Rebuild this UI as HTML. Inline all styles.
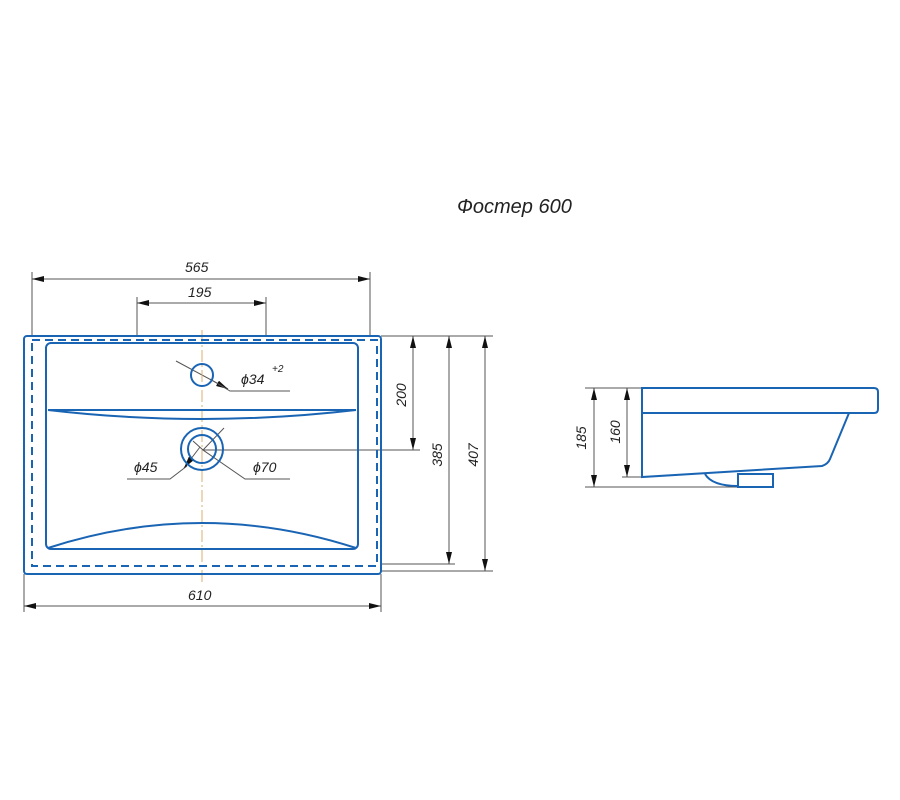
<!DOCTYPE html>
<html><head><meta charset="utf-8"><style>body{margin:0;background:#fff}svg{display:block}</style></head><body>
<svg width="900" height="800" viewBox="0 0 900 800" xmlns="http://www.w3.org/2000/svg">
<defs>
<marker id="a" markerWidth="12" markerHeight="6" refX="12" refY="3" orient="auto" markerUnits="userSpaceOnUse"><path d="M0,0 L12,3 L0,6 z" fill="#111"/></marker>
<marker id="b" markerWidth="12" markerHeight="6" refX="0" refY="3" orient="auto" markerUnits="userSpaceOnUse"><path d="M12,0 L0,3 L12,6 z" fill="#111"/></marker>
</defs>
<g font-family="Liberation Sans, sans-serif" font-style="italic" fill="#222">
<text x="457" y="213" font-size="20">Фостер 600</text>
</g>
<!-- dimension lines -->
<g stroke="#555" stroke-width="1" fill="none">
<line x1="32" y1="272" x2="32" y2="336"/><line x1="370" y1="272" x2="370" y2="336"/>
<line x1="32" y1="279" x2="370" y2="279" marker-start="url(#b)" marker-end="url(#a)"/>
<line x1="137" y1="297" x2="137" y2="336"/><line x1="266" y1="297" x2="266" y2="336"/>
<line x1="137" y1="303" x2="266" y2="303" marker-start="url(#b)" marker-end="url(#a)"/>
<line x1="381" y1="336" x2="493" y2="336"/>
<line x1="202" y1="450" x2="420" y2="450"/>
<line x1="381" y1="564" x2="455" y2="564"/>
<line x1="381" y1="571" x2="493" y2="571"/>
<line x1="413" y1="336" x2="413" y2="450" marker-start="url(#b)" marker-end="url(#a)"/>
<line x1="449" y1="336" x2="449" y2="564" marker-start="url(#b)" marker-end="url(#a)"/>
<line x1="485" y1="336" x2="485" y2="571" marker-start="url(#b)" marker-end="url(#a)"/>
<line x1="24" y1="574" x2="24" y2="612"/><line x1="381" y1="574" x2="381" y2="612"/>
<line x1="24" y1="606" x2="381" y2="606" marker-start="url(#b)" marker-end="url(#a)"/>
<!-- leaders -->
<line x1="176" y1="361" x2="228" y2="389" marker-end="url(#a)"/>
<polyline points="210,379 230,391 290,391"/>
<polyline points="127,479 170,479 187,466" /><line x1="200" y1="447" x2="184" y2="468" marker-end="url(#a)"/>
<polyline points="224,428 203,450 245,479 290,479"/><line x1="193" y1="441" x2="203" y2="450"/>
<!-- side view dims -->
<line x1="585" y1="388" x2="642" y2="388"/><line x1="622" y1="477" x2="642" y2="477"/><line x1="585" y1="487" x2="738" y2="487"/>
<line x1="594" y1="388" x2="594" y2="487" marker-start="url(#b)" marker-end="url(#a)"/>
<line x1="627" y1="388" x2="627" y2="477" marker-start="url(#b)" marker-end="url(#a)"/>
</g>
<g font-family="Liberation Sans, sans-serif" font-style="italic" fill="#222" font-size="14">
<text x="185" y="272">565</text>
<text x="188" y="297">195</text>
<text x="188" y="600">610</text>
<text x="241" y="384">ϕ34</text><text x="272" y="372" font-size="10">+2</text>
<text x="134" y="472">ϕ45</text>
<text x="253" y="472">ϕ70</text>
<text transform="translate(406,395) rotate(-90)" text-anchor="middle">200</text>
<text transform="translate(442,455) rotate(-90)" text-anchor="middle">385</text>
<text transform="translate(478,455) rotate(-90)" text-anchor="middle">407</text>
<text transform="translate(586,438) rotate(-90)" text-anchor="middle">185</text>
<text transform="translate(620,432) rotate(-90)" text-anchor="middle">160</text>
</g>
<!-- centre line -->
<line x1="202" y1="330" x2="202" y2="582" stroke="#d9b070" stroke-width="1" stroke-dasharray="12,3,2,3"/>
<!-- plan view -->
<g stroke="#1a64b4" stroke-width="2" fill="none">
<rect x="24" y="336" width="357" height="238" rx="3"/>
<rect x="32" y="340" width="345" height="226" stroke-dasharray="8,5"/>
<rect x="46" y="343" width="312" height="206" rx="5"/>
<path d="M48,410 Q202,428 356,410"/>
<line x1="48" y1="410" x2="356" y2="410"/>
<path d="M48,548 Q202,498 356,548"/>
<circle cx="202" cy="375" r="11"/>
<circle cx="202" cy="449" r="21"/>
<circle cx="202" cy="449" r="14"/>
<!-- side view -->
<path d="M642,388 H874 Q878,388 878,392 V409 Q878,413 874,413 H642 Z"/>
<path d="M642,413 V477 L822,466 Q828,464 830,459 L849,413"/>
<path d="M705,474 Q712,486 738,486"/>
<rect x="738" y="474" width="35" height="13"/>
</g>
</svg>
</body></html>
